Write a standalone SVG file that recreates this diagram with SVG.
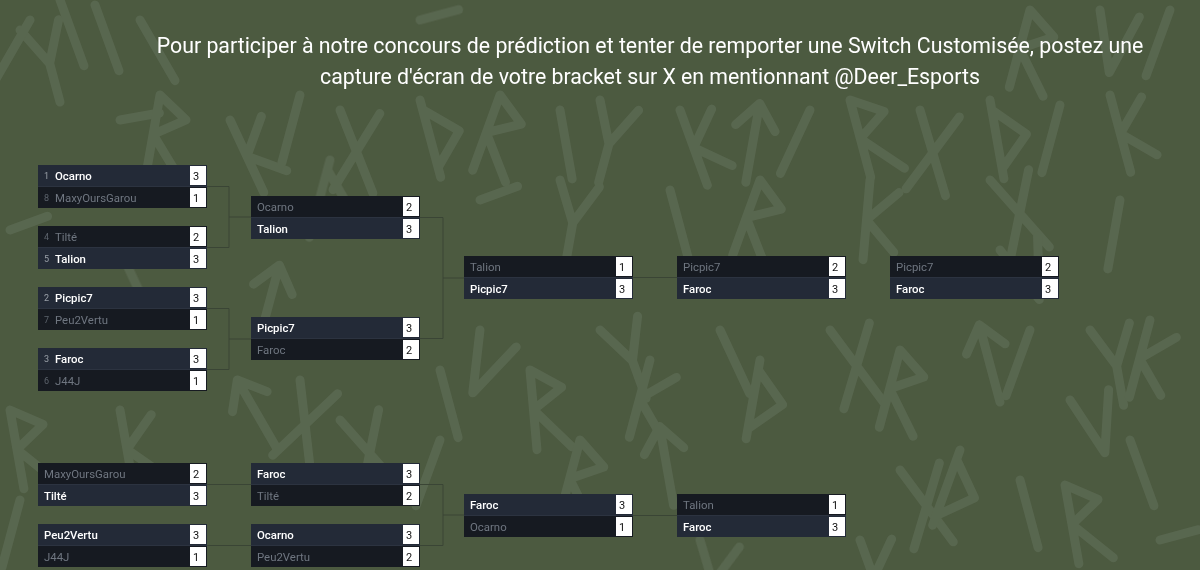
<svg xmlns="http://www.w3.org/2000/svg" xmlns:xlink="http://www.w3.org/1999/xlink" width="1200" height="570" viewBox="0 0 1200 570">
<style>
.rune{fill:none;stroke:#62705a;stroke-width:9;stroke-linecap:round;stroke-linejoin:round;opacity:0.6}
.hdr{font-family:Roboto,"Liberation Sans",sans-serif;font-size:21.3px;fill:#ffffff;text-anchor:middle}
.w{fill:#232a37}
.l{fill:#161a21}
.sb{fill:#ffffff}
.nm{font-family:Roboto,"Liberation Sans",sans-serif;font-size:11.4px}
.nw{fill:#ffffff;font-weight:500}
.nl{fill:#6f7680}
.sd{font-family:Roboto,"Liberation Sans",sans-serif;font-size:9px;fill:#9aa0a8}
.sdl{fill:#5c636c}
.sc{font-family:Roboto,"Liberation Sans",sans-serif;font-size:11px;fill:#111111}
.sep{stroke:#2c3340;stroke-width:1}
.con{fill:none;stroke:#3a4535;stroke-width:1}
</style>
<defs>
<path id="rR" d="M0 80 V0 L30 20 L0 40 L35 80"/>
<path id="rK" d="M0 0 V80 M30 10 L0 40 L30 70"/>
<path id="rX" d="M0 0 L40 80 M40 0 L0 80"/>
<path id="rI" d="M0 0 V70"/>
<path id="rY" d="M0 0 L20 40 L40 0 M20 40 V80"/>
<path id="rT" d="M20 80 V0 M0 25 L20 0 L40 25"/>
<path id="rD" d="M0 0 V80 M0 10 L30 40 L0 70"/>
<path id="rS" d="M0 0 H40"/>
<path id="rV" d="M0 0 L20 60 L40 0"/>
</defs>
<rect width="1200" height="570" fill="#4c5a40"/>
<g id="background-runes" class="rune">
<use href="#rY" transform="translate(20,30) rotate(-15)"/>
<use href="#rI" transform="translate(60,0) rotate(-20)"/>
<use href="#rI" transform="translate(95,5) rotate(-20)"/>
<use href="#rS" transform="translate(120,120) rotate(-10)"/>
<use href="#rR" transform="translate(160,95) rotate(10)"/>
<use href="#rK" transform="translate(230,120) rotate(-25)"/>
<use href="#rI" transform="translate(300,95) rotate(15)"/>
<use href="#rX" transform="translate(340,110) rotate(5)"/>
<use href="#rD" transform="translate(420,100) rotate(-15)"/>
<use href="#rR" transform="translate(500,95) rotate(20)"/>
<use href="#rI" transform="translate(560,110) rotate(-10)"/>
<use href="#rY" transform="translate(600,100) rotate(15)"/>
<use href="#rK" transform="translate(680,110) rotate(-20)"/>
<use href="#rT" transform="translate(740,100) rotate(10)"/>
<use href="#rI" transform="translate(810,110) rotate(25)"/>
<use href="#rR" transform="translate(850,100) rotate(-15)"/>
<use href="#rX" transform="translate(920,110) rotate(10)"/>
<use href="#rD" transform="translate(990,100) rotate(-10)"/>
<use href="#rI" transform="translate(1060,105) rotate(15)"/>
<use href="#rK" transform="translate(1110,95) rotate(-15)"/>
<use href="#rI" transform="translate(1170,10) rotate(20)"/>
<use href="#rV" transform="translate(1100,10) rotate(10)"/>
<use href="#rS" transform="translate(10,230) rotate(-20)"/>
<use href="#rR" transform="translate(10,410) rotate(-10)"/>
<use href="#rT" transform="translate(220,390) rotate(-30)"/>
<use href="#rX" transform="translate(300,380) rotate(20)"/>
<use href="#rI" transform="translate(440,370) rotate(-15)"/>
<use href="#rV" transform="translate(480,330) rotate(25)"/>
<use href="#rR" transform="translate(530,370) rotate(-5)"/>
<use href="#rY" transform="translate(600,330) rotate(-20)"/>
<use href="#rK" transform="translate(650,360) rotate(15)"/>
<use href="#rI" transform="translate(720,330) rotate(-25)"/>
<use href="#rD" transform="translate(760,360) rotate(10)"/>
<use href="#rX" transform="translate(830,330) rotate(-10)"/>
<use href="#rR" transform="translate(900,350) rotate(15)"/>
<use href="#rT" transform="translate(960,330) rotate(-15)"/>
<use href="#rI" transform="translate(1030,330) rotate(20)"/>
<use href="#rY" transform="translate(1090,330) rotate(-10)"/>
<use href="#rK" transform="translate(1150,320) rotate(15)"/>
<use href="#rR" transform="translate(1065,485) rotate(-10)"/>
<use href="#rI" transform="translate(1130,440) rotate(-20)"/>
<use href="#rS" transform="translate(1160,540) rotate(-15)"/>
<use href="#rV" transform="translate(1070,400) rotate(-15)"/>
<use href="#rX" transform="translate(900,470) rotate(-10)"/>
<use href="#rD" transform="translate(960,450) rotate(20)"/>
<use href="#rI" transform="translate(1020,480) rotate(-15)"/>
<use href="#rK" transform="translate(860,540) rotate(-20)"/>
<use href="#rY" transform="translate(700,540) rotate(10)"/>
<use href="#rR" transform="translate(580,440) rotate(15)"/>
<use href="#rT" transform="translate(640,430) rotate(-10)"/>
<use href="#rI" transform="translate(440,440) rotate(20)"/>
<use href="#rX" transform="translate(340,420) rotate(-15)"/>
<use href="#rK" transform="translate(120,410) rotate(-10)"/>
<use href="#rI" transform="translate(20,500) rotate(15)"/>
<use href="#rS" transform="translate(100,560) rotate(-5)"/>
<use href="#rD" transform="translate(330,160) rotate(15)"/>
<use href="#rI" transform="translate(120,250) rotate(-25)"/>
<use href="#rY" transform="translate(560,180) rotate(10)"/>
<use href="#rI" transform="translate(670,190) rotate(-15)"/>
<use href="#rR" transform="translate(760,180) rotate(20)"/>
<use href="#rX" transform="translate(990,180) rotate(-15)"/>
<use href="#rI" transform="translate(1120,200) rotate(10)"/>
<use href="#rK" transform="translate(870,180) rotate(5)"/>
<use href="#rS" transform="translate(480,200) rotate(-20)"/>
<use href="#rT" transform="translate(260,260) rotate(15)"/>
<use href="#rV" transform="translate(1000,250) rotate(-20)"/>
<use href="#rI" transform="translate(30,20) rotate(30)"/>
<use href="#rS" transform="translate(420,20) rotate(-15)"/>
<use href="#rI" transform="translate(140,20) rotate(-30)"/>
<use href="#rR" transform="translate(1030,10) rotate(15)"/>
</g>
<g id="header">
<text class="hdr" x="650" y="53">Pour participer à notre concours de prédiction et tenter de remporter une Switch Customisée, postez une</text>
<text class="hdr" x="650" y="84">capture d'écran de votre bracket sur X en mentionnant @Deer_Esports</text>
</g>
<g id="connectors" class="con">
<path d="M207 186.5 H229 V247.5 H207 M229 217 H251"/>
<path d="M207 308.5 H229 V369.5 H207 M229 339 H251"/>
<path d="M420 217.5 H443 V338.5 H420 M443 278 H464"/>
<path d="M633 277.5 H677"/>
<path d="M207 484.5 H251 M207 545.5 H251"/>
<path d="M420 484.5 H443 V545.5 H420 M443 515 H464"/>
<path d="M633 515.5 H677"/>
</g>
<g id="m-a1" transform="translate(38,165)">
<rect class="w" width="169" height="21"/><rect class="l" y="22" width="169" height="21"/><line class="sep" x1="0" y1="21.5" x2="169" y2="21.5"/>
<rect class="sb" x="152" y="1" width="16" height="19"/><rect class="sb" x="152" y="23" width="16" height="19"/>
<text class="sd" x="6" y="14">1</text><text class="nm nw" x="17" y="15">Ocarno</text><text class="sc" x="155" y="15">3</text>
<text class="sd sdl" x="6" y="36">8</text><text class="nm nl" x="17" y="37">MaxyOursGarou</text><text class="sc" x="155" y="37">1</text>
</g>
<g id="m-a2" transform="translate(38,226)">
<rect class="l" width="169" height="21"/><rect class="w" y="22" width="169" height="21"/><line class="sep" x1="0" y1="21.5" x2="169" y2="21.5"/>
<rect class="sb" x="152" y="1" width="16" height="19"/><rect class="sb" x="152" y="23" width="16" height="19"/>
<text class="sd sdl" x="6" y="14">4</text><text class="nm nl" x="17" y="15">Tilté</text><text class="sc" x="155" y="15">2</text>
<text class="sd" x="6" y="36">5</text><text class="nm nw" x="17" y="37">Talion</text><text class="sc" x="155" y="37">3</text>
</g>
<g id="m-a3" transform="translate(38,287)">
<rect class="w" width="169" height="21"/><rect class="l" y="22" width="169" height="21"/><line class="sep" x1="0" y1="21.5" x2="169" y2="21.5"/>
<rect class="sb" x="152" y="1" width="16" height="19"/><rect class="sb" x="152" y="23" width="16" height="19"/>
<text class="sd" x="6" y="14">2</text><text class="nm nw" x="17" y="15">Picpic7</text><text class="sc" x="155" y="15">3</text>
<text class="sd sdl" x="6" y="36">7</text><text class="nm nl" x="17" y="37">Peu2Vertu</text><text class="sc" x="155" y="37">1</text>
</g>
<g id="m-a4" transform="translate(38,348)">
<rect class="w" width="169" height="21"/><rect class="l" y="22" width="169" height="21"/><line class="sep" x1="0" y1="21.5" x2="169" y2="21.5"/>
<rect class="sb" x="152" y="1" width="16" height="19"/><rect class="sb" x="152" y="23" width="16" height="19"/>
<text class="sd" x="6" y="14">3</text><text class="nm nw" x="17" y="15">Faroc</text><text class="sc" x="155" y="15">3</text>
<text class="sd sdl" x="6" y="36">6</text><text class="nm nl" x="17" y="37">J44J</text><text class="sc" x="155" y="37">1</text>
</g>
<g id="m-b1" transform="translate(251,196)">
<rect class="l" width="169" height="21"/><rect class="w" y="22" width="169" height="21"/><line class="sep" x1="0" y1="21.5" x2="169" y2="21.5"/>
<rect class="sb" x="152" y="1" width="16" height="19"/><rect class="sb" x="152" y="23" width="16" height="19"/>
<text class="nm nl" x="6" y="15">Ocarno</text><text class="sc" x="155" y="15">2</text>
<text class="nm nw" x="6" y="37">Talion</text><text class="sc" x="155" y="37">3</text>
</g>
<g id="m-b2" transform="translate(251,317)">
<rect class="w" width="169" height="21"/><rect class="l" y="22" width="169" height="21"/><line class="sep" x1="0" y1="21.5" x2="169" y2="21.5"/>
<rect class="sb" x="152" y="1" width="16" height="19"/><rect class="sb" x="152" y="23" width="16" height="19"/>
<text class="nm nw" x="6" y="15">Picpic7</text><text class="sc" x="155" y="15">3</text>
<text class="nm nl" x="6" y="37">Faroc</text><text class="sc" x="155" y="37">2</text>
</g>
<g id="m-c1" transform="translate(464,256)">
<rect class="l" width="169" height="21"/><rect class="w" y="22" width="169" height="21"/><line class="sep" x1="0" y1="21.5" x2="169" y2="21.5"/>
<rect class="sb" x="152" y="1" width="16" height="19"/><rect class="sb" x="152" y="23" width="16" height="19"/>
<text class="nm nl" x="6" y="15">Talion</text><text class="sc" x="155" y="15">1</text>
<text class="nm nw" x="6" y="37">Picpic7</text><text class="sc" x="155" y="37">3</text>
</g>
<g id="m-d1" transform="translate(677,256)">
<rect class="l" width="169" height="21"/><rect class="w" y="22" width="169" height="21"/><line class="sep" x1="0" y1="21.5" x2="169" y2="21.5"/>
<rect class="sb" x="152" y="1" width="16" height="19"/><rect class="sb" x="152" y="23" width="16" height="19"/>
<text class="nm nl" x="6" y="15">Picpic7</text><text class="sc" x="155" y="15">2</text>
<text class="nm nw" x="6" y="37">Faroc</text><text class="sc" x="155" y="37">3</text>
</g>
<g id="m-e1" transform="translate(890,256)">
<rect class="l" width="169" height="21"/><rect class="w" y="22" width="169" height="21"/><line class="sep" x1="0" y1="21.5" x2="169" y2="21.5"/>
<rect class="sb" x="152" y="1" width="16" height="19"/><rect class="sb" x="152" y="23" width="16" height="19"/>
<text class="nm nl" x="6" y="15">Picpic7</text><text class="sc" x="155" y="15">2</text>
<text class="nm nw" x="6" y="37">Faroc</text><text class="sc" x="155" y="37">3</text>
</g>
<g id="m-l1" transform="translate(38,463)">
<rect class="l" width="169" height="21"/><rect class="w" y="22" width="169" height="21"/><line class="sep" x1="0" y1="21.5" x2="169" y2="21.5"/>
<rect class="sb" x="152" y="1" width="16" height="19"/><rect class="sb" x="152" y="23" width="16" height="19"/>
<text class="nm nl" x="6" y="15">MaxyOursGarou</text><text class="sc" x="155" y="15">2</text>
<text class="nm nw" x="6" y="37">Tilté</text><text class="sc" x="155" y="37">3</text>
</g>
<g id="m-l2" transform="translate(38,524)">
<rect class="w" width="169" height="21"/><rect class="l" y="22" width="169" height="21"/><line class="sep" x1="0" y1="21.5" x2="169" y2="21.5"/>
<rect class="sb" x="152" y="1" width="16" height="19"/><rect class="sb" x="152" y="23" width="16" height="19"/>
<text class="nm nw" x="6" y="15">Peu2Vertu</text><text class="sc" x="155" y="15">3</text>
<text class="nm nl" x="6" y="37">J44J</text><text class="sc" x="155" y="37">1</text>
</g>
<g id="m-l3" transform="translate(251,463)">
<rect class="w" width="169" height="21"/><rect class="l" y="22" width="169" height="21"/><line class="sep" x1="0" y1="21.5" x2="169" y2="21.5"/>
<rect class="sb" x="152" y="1" width="16" height="19"/><rect class="sb" x="152" y="23" width="16" height="19"/>
<text class="nm nw" x="6" y="15">Faroc</text><text class="sc" x="155" y="15">3</text>
<text class="nm nl" x="6" y="37">Tilté</text><text class="sc" x="155" y="37">2</text>
</g>
<g id="m-l4" transform="translate(251,524)">
<rect class="w" width="169" height="21"/><rect class="l" y="22" width="169" height="21"/><line class="sep" x1="0" y1="21.5" x2="169" y2="21.5"/>
<rect class="sb" x="152" y="1" width="16" height="19"/><rect class="sb" x="152" y="23" width="16" height="19"/>
<text class="nm nw" x="6" y="15">Ocarno</text><text class="sc" x="155" y="15">3</text>
<text class="nm nl" x="6" y="37">Peu2Vertu</text><text class="sc" x="155" y="37">2</text>
</g>
<g id="m-l5" transform="translate(464,494)">
<rect class="w" width="169" height="21"/><rect class="l" y="22" width="169" height="21"/><line class="sep" x1="0" y1="21.5" x2="169" y2="21.5"/>
<rect class="sb" x="152" y="1" width="16" height="19"/><rect class="sb" x="152" y="23" width="16" height="19"/>
<text class="nm nw" x="6" y="15">Faroc</text><text class="sc" x="155" y="15">3</text>
<text class="nm nl" x="6" y="37">Ocarno</text><text class="sc" x="155" y="37">1</text>
</g>
<g id="m-l6" transform="translate(677,494)">
<rect class="l" width="169" height="21"/><rect class="w" y="22" width="169" height="21"/><line class="sep" x1="0" y1="21.5" x2="169" y2="21.5"/>
<rect class="sb" x="152" y="1" width="16" height="19"/><rect class="sb" x="152" y="23" width="16" height="19"/>
<text class="nm nl" x="6" y="15">Talion</text><text class="sc" x="155" y="15">1</text>
<text class="nm nw" x="6" y="37">Faroc</text><text class="sc" x="155" y="37">3</text>
</g>
</svg>
